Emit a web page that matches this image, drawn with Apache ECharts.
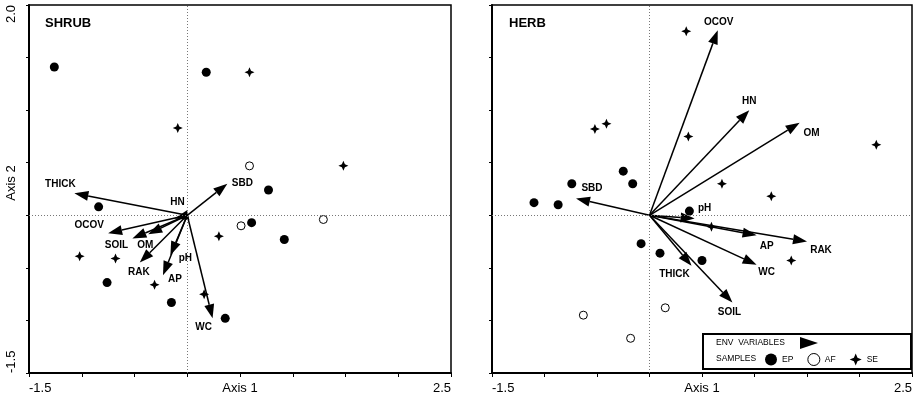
<!DOCTYPE html>
<html><head><meta charset="utf-8">
<script src="https://cdn.jsdelivr.net/npm/echarts@6/dist/echarts.min.js"></script>
<style>html,body{margin:0;padding:0;background:#fff}#c{width:921px;height:401px}</style>
</head><body><div id="c"></div>
<script>
// ---------- DATA ----------
const xTickLabels = ['-1.5', '2.5'];
const yTickLabels = ['-1.5', '2.0'];
const panelTitles = ['SHRUB', 'HERB'];
const sampleGroups = ['EP', 'AF', 'SE'];

// SHRUB panel
const shrubVarNames = ['THICK', 'SBD', 'HN', 'OCOV', 'SOIL', 'OM', 'RAK', 'AP', 'pH', 'WC'];
const shrubVarX = [-1.07, 0.38, -0.12, -0.75, -0.52, -0.37, -0.45, -0.23, -0.16, 0.24];
const shrubVarY = [0.21, 0.30, -0.03, -0.17, -0.22, -0.18, -0.45, -0.57, -0.38, -0.98];
const shrubEP = [[-1.26, 1.41], [0.18, 1.36], [0.77, 0.24], [-0.84, 0.08], [0.61, -0.07], [0.92, -0.23], [-0.76, -0.64], [-0.15, -0.83], [0.36, -0.98]];
const shrubAF = [[0.59, 0.47], [0.51, -0.10], [1.29, -0.04]];
const shrubSE = [[0.59, 1.36], [-0.09, 0.83], [1.48, 0.47], [0.30, -0.20], [-1.02, -0.39], [-0.68, -0.41], [-0.31, -0.66], [0.16, -0.75]];

// HERB panel
const herbVarNames = ['OCOV', 'HN', 'OM', 'SBD', 'pH', 'AP', 'RAK', 'WC', 'SOIL', 'THICK'];
const herbVarX = [0.65, 0.95, 1.43, -0.70, 0.43, 1.02, 1.50, 1.02, 0.79, 0.40];
const herbVarY = [1.76, 1.00, 0.88, 0.16, -0.03, -0.19, -0.25, -0.47, -0.83, -0.48];
const herbEP = [[-0.25, 0.42], [-0.16, 0.30], [-0.74, 0.30], [-1.10, 0.12], [-0.87, 0.10], [-0.08, -0.27], [0.10, -0.36], [0.50, -0.43], [0.38, 0.04]];
const herbAF = [[-0.63, -0.95], [-0.18, -1.17], [0.15, -0.88]];
const herbSE = [[0.35, 1.75], [-0.52, 0.82], [-0.41, 0.87], [0.37, 0.75], [2.16, 0.67], [0.69, 0.30], [1.16, 0.18], [1.35, -0.43], [0.59, -0.11]];

// ---------- STYLE / LAYOUT ----------
const FONT = 'Liberation Sans, Arial, sans-serif';
const shrubLabelOff = {THICK:[-14,-9], SBD:[15,0], HN:[3,-16], OCOV:[-19,-8], SOIL:[-16,7], OM:[-3,11], RAK:[-1,10], AP:[12,4], pH:[15,3], WC:[-9,9]};
const herbLabelOff = {OCOV:[1,-8], HN:[0,-9], OM:[12,10], SBD:[16,-10], pH:[10,-10], AP:[10,11], RAK:[14,9], WC:[10,8], SOIL:[-3,10], THICK:[-17,8]};
const STAR = 'path://M0,-10 L3,-3 L10,0 L3,3 L0,10 L-3,3 L-10,0 L-3,-3 Z';

function arrowSeries(idx, names, xs, ys, offs) {
  return {
    type: 'custom', xAxisIndex: idx, yAxisIndex: idx, z: 3, silent: true,
    data: xs.map((x, i) => [x, ys[i]]),
    renderItem: function (params, api) {
      const tip = api.coord([api.value(0), api.value(1)]);
      const o = api.coord([0, 0]);
      let dx = tip[0] - o[0], dy = tip[1] - o[1];
      const len = Math.sqrt(dx * dx + dy * dy) || 1;
      dx /= len; dy /= len;
      const hl = 14, hw = 5;
      const bx = tip[0] - dx * hl, by = tip[1] - dy * hl;
      const px = -dy, py = dx;
      const name = names[params.dataIndex];
      const off = offs[name] || [0, 0];
      return {
        type: 'group',
        children: [
          {type: 'line', shape: {x1: o[0], y1: o[1], x2: bx, y2: by}, style: {stroke: '#000', lineWidth: 1.5}},
          {type: 'polygon', shape: {points: [[tip[0], tip[1]], [bx + px * hw, by + py * hw], [bx - px * hw, by - py * hw]]}, style: {fill: '#000'}},
          {type: 'text', x: tip[0] + off[0], y: tip[1] + off[1], style: {text: name, fill: '#000', font: 'bold 10px ' + FONT, align: 'center', verticalAlign: 'middle'}}
        ]
      };
    }
  };
}

function pointSeries(idx, name, data) {
  const s = {type: 'scatter', name: name, xAxisIndex: idx, yAxisIndex: idx, data: data, z: 4, silent: true};
  if (name === 'EP') { s.symbol = 'circle'; s.symbolSize = 9; s.itemStyle = {color: '#000', opacity: 1}; }
  else if (name === 'AF') { s.symbol = 'circle'; s.symbolSize = 8; s.itemStyle = {color: '#fff', borderColor: '#000', borderWidth: 1, opacity: 1}; }
  else { s.symbol = STAR; s.symbolSize = 10; s.itemStyle = {color: '#000', opacity: 1}; }
  return s;
}

function zeroLines(idx) {
  return {
    type: 'scatter', xAxisIndex: idx, yAxisIndex: idx, data: [], silent: true, z: 1,
    markLine: {silent: true, symbol: 'none', label: {show: false},
      lineStyle: {color: '#777', type: [1, 2], width: 1},
      data: [{xAxis: 0}, {yAxis: 0}]}
  };
}

function xAxisCfg(idx) {
  return {
    type: 'value', gridIndex: idx, min: -1.5, max: 2.5, interval: 0.5,
    name: 'Axis 1', nameLocation: 'middle', nameGap: 9, nameMoveOverlap: false,
    nameTextStyle: {fontFamily: FONT, fontSize: 13, color: '#000', verticalAlign: 'top'},
    axisLine: {onZero: false, lineStyle: {color: '#000', width: 2}},
    axisTick: {show: true, length: 4, lineStyle: {color: '#000', width: 1}},
    splitLine: {show: false},
    axisLabel: {margin: 9, fontFamily: FONT, fontSize: 13, color: '#000',
      showMinLabel: true, showMaxLabel: true, alignMinLabel: 'left', alignMaxLabel: 'right',
      formatter: v => (Math.abs(v + 1.5) < 1e-9 ? xTickLabels[0] : (Math.abs(v - 2.5) < 1e-9 ? xTickLabels[1] : ''))}
  };
}
function yAxisCfg(idx, showLabels) {
  return {
    type: 'value', gridIndex: idx, min: -1.5, max: 2.0, interval: 0.5,
    name: showLabels ? 'Axis 2' : '', nameLocation: 'middle', nameGap: 11, nameMoveOverlap: false,
    nameTextStyle: {fontFamily: FONT, fontSize: 13, color: '#000', padding: [0, 0, 0, 12]},
    axisLine: {onZero: false, lineStyle: {color: '#000', width: 2}},
    axisTick: {show: true, length: 3, lineStyle: {color: '#000', width: 1}},
    splitLine: {show: false},
    axisLabel: {show: showLabels, rotate: 90, margin: 11, fontFamily: FONT, fontSize: 13, color: '#000',
      showMinLabel: true, showMaxLabel: true, alignMinLabel: 'left', alignMaxLabel: 'right',
      formatter: v => (Math.abs(v + 1.5) < 1e-9 ? yTickLabels[0] : (Math.abs(v - 2.0) < 1e-9 ? yTickLabels[1] : ''))}
  };
}

const chart = echarts.init(document.getElementById('c'), null, {renderer: 'canvas'});
chart.setOption({
  animation: false,
  backgroundColor: '#fff',
  title: [
    {text: panelTitles[0], left: 45, top: 17, textStyle: {fontFamily: FONT, fontSize: 13, fontWeight: 'bold', color: '#000'}, padding: 0},
    {text: panelTitles[1], left: 509, top: 17, textStyle: {fontFamily: FONT, fontSize: 13, fontWeight: 'bold', color: '#000'}, padding: 0}
  ],
  grid: [
    {left: 29, top: 5, width: 422, height: 368, containLabel: false, outerBoundsMode: 'none', show: true, borderColor: '#000', borderWidth: 1.5, backgroundColor: 'transparent'},
    {left: 492, top: 5, width: 420, height: 368, containLabel: false, outerBoundsMode: 'none', show: true, borderColor: '#000', borderWidth: 1.5, backgroundColor: 'transparent'}
  ],
  xAxis: [xAxisCfg(0), xAxisCfg(1)],
  yAxis: [yAxisCfg(0, true), yAxisCfg(1, false)],
  legend: {
    data: [
      {name: 'EP', icon: 'circle', itemStyle: {color: '#000', opacity: 1}},
      {name: 'AF', icon: 'circle', itemStyle: {color: '#fff', borderColor: '#000', borderWidth: 1, opacity: 1}},
      {name: 'SE', icon: STAR, itemStyle: {color: '#000', opacity: 1}}
    ],
    orient: 'horizontal',
    left: 765, top: 353, itemWidth: 12, itemHeight: 12, itemGap: 14, padding: 0,
    selectedMode: false,
    textStyle: {fontFamily: FONT, fontSize: 8.5, color: '#000'}
  },
  graphic: [
    {type: 'rect', left: 702, top: 333, shape: {width: 208, height: 35}, style: {fill: 'transparent', stroke: '#000', lineWidth: 2}, z: 10},
    {type: 'text', x: 716, y: 343, style: {text: 'ENV  VARIABLES', font: '8.5px ' + FONT, fill: '#000', verticalAlign: 'middle'}, z: 10},
    {type: 'polygon', shape: {points: [[800, 337], [818, 343], [800, 349]]}, style: {fill: '#000'}, z: 10},
    {type: 'text', x: 716, y: 359, style: {text: 'SAMPLES', font: '8.5px ' + FONT, fill: '#000', verticalAlign: 'middle'}, z: 10}
  ],
  series: [
    zeroLines(0), zeroLines(1),
    arrowSeries(0, shrubVarNames, shrubVarX, shrubVarY, shrubLabelOff),
    arrowSeries(1, herbVarNames, herbVarX, herbVarY, herbLabelOff),
    pointSeries(0, sampleGroups[0], shrubEP), pointSeries(0, sampleGroups[1], shrubAF), pointSeries(0, sampleGroups[2], shrubSE),
    pointSeries(1, sampleGroups[0], herbEP), pointSeries(1, sampleGroups[1], herbAF), pointSeries(1, sampleGroups[2], herbSE)
  ]
});
</script></body></html>
